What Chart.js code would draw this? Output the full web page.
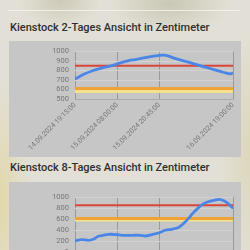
<!DOCTYPE html>
<html>
<head>
<meta charset="utf-8">
<script src="https://cdn.jsdelivr.net/npm/chart.js@4.4.1/dist/chart.umd.min.js"></script>
<style>
  html, body { margin: 0; padding: 0; }
  body {
    width: 250px; height: 250px; overflow: hidden; position: relative;
    font-family: Roboto, "Open Sans", sans-serif;
    background:
      radial-gradient(ellipse 60px 30px at 170px 4px, rgba(170,170,140,0.45), transparent),
      radial-gradient(ellipse 40px 25px at 60px 2px, rgba(175,170,140,0.4), transparent),
      radial-gradient(ellipse 30px 120px at 0px 200px, rgba(225,210,140,0.6), transparent),
      radial-gradient(ellipse 30px 120px at 250px 150px, rgba(215,205,160,0.5), transparent),
      #e2e0d6;
  }
  .hr { position: absolute; left: 8px; top: 10px; width: 232px; height: 1px; background: rgba(245,245,240,0.8); }
  h3 {
    position: absolute; left: 10px; margin: 0;
    font-size: 11px; line-height: 12px; font-weight: 500; color: #2f2f2f;
    white-space: nowrap;
  }
  .box { position: absolute; left: 9px; width: 232px; background: #c6c6c6; }
</style>
</head>
<body>
<div class="hr"></div>
<h3 style="top:22px">Kienstock 2-Tages Ansicht in Zentimeter</h3>
<div class="box" style="top:41px;height:116px"><canvas id="c2d" width="232" height="116"></canvas></div>
<h3 style="top:162px">Kienstock 8-Tages Ansicht in Zentimeter</h3>
<div class="box" style="top:182px;height:128px"><canvas id="c8d" width="232" height="128"></canvas></div>

<script>
// Pegel Kienstock, Stunden ab Beginn des Zeitraums
const hours2d = [0, 2.5, 5.5, 8.5, 11.5, 14.25, 16.75, 18.25, 21.25, 24.25, 26.75, 28.25, 30.25, 33, 36, 39, 42, 45, 47, 47.75]
const level2d = [709, 757, 800, 830, 855, 885, 909, 915, 936, 955, 961, 952, 927, 900, 870, 839, 809, 779, 764, 775]
const tickHours2d = [0, 12.75, 25.5, 47.75]
const tickLabels2d = ['14.09.2024 19:15:00', '15.09.2024 08:00:00', '15.09.2024 20:45:00', '16.09.2024 19:00:00']

const hours8d = [0, 8, 16, 22, 28, 34, 41, 50, 57, 69, 79, 85, 93, 101, 109, 117, 125, 131, 137, 142, 148, 154, 160, 168, 174, 180, 186, 190, 191]
const level8d = [200, 225, 213, 231, 285, 304, 322, 316, 304, 304, 304, 291, 316, 345, 395, 413, 444, 516, 607, 698, 789, 867, 909, 940, 958, 934, 867, 807, 830]
const tickHours8d = [0, 51, 102, 191]
const tickLabels8d = ['08.09.2024 19:15:00', '10.09.2024 22:15:00', '13.09.2024 01:15:00', '16.09.2024 19:00:00']

// Warnstufen
const thresholds = [850, 610, 580]
const thresholdColors = ['#d8463a', '#efa23a', '#f3e28a']

Chart.defaults.font.family = 'Roboto'
Chart.defaults.color = '#777'

function makeChart(id, hours, level, tickHours, tickLabels, yMin, yMax, yStep, padTop) {
    const last = hours[hours.length - 1]
    const datasets = [{
        data: hours.map((h, i) => ({ x: h, y: level[i] })),
        borderColor: '#4a86e8',
        borderWidth: 2.8,
        pointRadius: 0,
        tension: 0.35
    }]
    thresholds.forEach((t, i) => {
        datasets.push({
            data: [{ x: 0, y: t }, { x: last, y: t }],
            borderColor: thresholdColors[i],
            borderWidth: i == 0 ? 2 : 3,
            pointRadius: 0
        })
    })
    new Chart(document.getElementById(id), {
        type: 'line',
        data: { datasets: datasets },
        options: {
            responsive: false,
            animation: false,
            layout: { padding: { top: padTop, right: 5 } },
            plugins: { legend: { display: false }, tooltip: { enabled: false } },
            scales: {
                x: {
                    type: 'linear',
                    min: 0,
                    max: last,
                    afterBuildTicks: (scale) => { scale.ticks = tickHours.map(v => ({ value: v })) },
                    afterFit: (scale) => { scale.height = 58 },
                    ticks: {
                        autoSkip: false,
                        minRotation: 45,
                        maxRotation: 45,
                        font: { size: 7 },
                        padding: 2,
                        callback: (v) => tickLabels[tickHours.indexOf(v)]
                    },
                    grid: { color: '#9a9a9a', drawTicks: false },
                    border: { color: '#aaa' }
                },
                y: {
                    min: yMin,
                    max: yMax,
                    afterFit: (scale) => { scale.width = 66 },
                    ticks: { stepSize: yStep, autoSkip: false, font: { size: 7.5 }, padding: 6, callback: (v) => String(v) },
                    grid: { color: '#d2d2d2', drawTicks: false },
                    border: { display: false }
                }
            }
        }
    })
}

makeChart('c2d', hours2d, level2d, tickHours2d, tickLabels2d, 500, 1000, 100, 3)
makeChart('c8d', hours8d, level8d, tickHours8d, tickLabels8d, 0, 1000, 200, 15)
</script>
</body>
</html>
